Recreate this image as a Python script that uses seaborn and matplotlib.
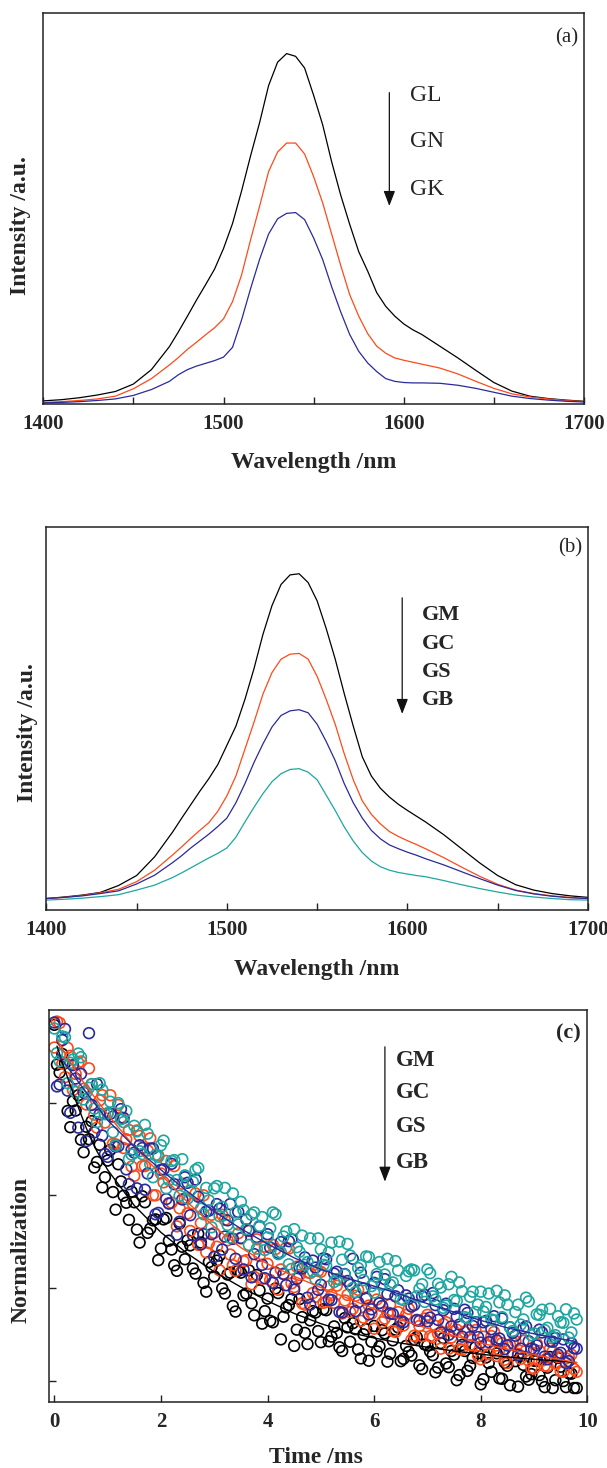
import numpy as np
import matplotlib
matplotlib.use("Agg")
import matplotlib.pyplot as plt
import seaborn as sns

# ---------------- emission spectra ----------------
wavelength = [1400, 1410, 1420, 1430, 1440, 1450, 1460, 1470, 1475, 1480, 1485, 1490, 1495,
              1500, 1505, 1510, 1515, 1520, 1525, 1530, 1535, 1540, 1545, 1550, 1555, 1560,
              1565, 1570, 1575, 1580, 1585, 1590, 1595, 1600, 1605, 1610, 1620, 1630, 1640,
              1650, 1660, 1670, 1680, 1690, 1700]

gl = [0.008, 0.011, 0.016, 0.023, 0.032, 0.051, 0.088, 0.147, 0.185, 0.225, 0.266, 0.305, 0.345,
      0.398, 0.462, 0.545, 0.635, 0.720, 0.815, 0.875, 0.897, 0.890, 0.860, 0.790, 0.715, 0.620,
      0.535, 0.460, 0.390, 0.340, 0.285, 0.250, 0.225, 0.205, 0.190, 0.178, 0.148, 0.118, 0.086,
      0.055, 0.033, 0.020, 0.014, 0.010, 0.007]
gn = [0.004, 0.006, 0.009, 0.013, 0.020, 0.039, 0.065, 0.100, 0.119, 0.140, 0.158, 0.177, 0.195,
      0.218, 0.262, 0.330, 0.420, 0.506, 0.595, 0.645, 0.668, 0.668, 0.640, 0.582, 0.515, 0.435,
      0.355, 0.280, 0.225, 0.180, 0.148, 0.130, 0.118, 0.112, 0.107, 0.102, 0.092, 0.077, 0.058,
      0.040, 0.026, 0.018, 0.013, 0.009, 0.006]
gk = [0.003, 0.004, 0.006, 0.009, 0.013, 0.022, 0.037, 0.058, 0.075, 0.088, 0.097, 0.104, 0.111,
      0.120, 0.145, 0.215, 0.295, 0.370, 0.435, 0.474, 0.488, 0.490, 0.472, 0.425, 0.370, 0.300,
      0.236, 0.178, 0.135, 0.105, 0.083, 0.065, 0.058, 0.055, 0.054, 0.054, 0.053, 0.048, 0.040,
      0.030, 0.020, 0.014, 0.010, 0.007, 0.005]

gm = [0.030, 0.034, 0.039, 0.046, 0.064, 0.090, 0.139, 0.204, 0.240, 0.275, 0.310, 0.343, 0.380,
      0.430, 0.480, 0.550, 0.630, 0.720, 0.795, 0.850, 0.875, 0.878, 0.855, 0.807, 0.735, 0.655,
      0.565, 0.480, 0.400, 0.350, 0.318, 0.295, 0.276, 0.260, 0.245, 0.230, 0.197, 0.160, 0.123,
      0.090, 0.066, 0.052, 0.043, 0.037, 0.033]
gc = [0.030, 0.033, 0.038, 0.045, 0.054, 0.074, 0.104, 0.144, 0.165, 0.187, 0.208, 0.228, 0.258,
      0.298, 0.350, 0.420, 0.490, 0.564, 0.620, 0.655, 0.668, 0.670, 0.655, 0.610, 0.550, 0.485,
      0.408, 0.340, 0.285, 0.250, 0.225, 0.205, 0.192, 0.181, 0.171, 0.160, 0.137, 0.112, 0.088,
      0.067, 0.052, 0.043, 0.037, 0.033, 0.030]
gs = [0.030, 0.033, 0.037, 0.043, 0.050, 0.068, 0.091, 0.124, 0.142, 0.162, 0.180, 0.198, 0.218,
      0.240, 0.280, 0.330, 0.385, 0.434, 0.478, 0.508, 0.520, 0.523, 0.515, 0.485, 0.440, 0.390,
      0.330, 0.280, 0.240, 0.208, 0.186, 0.170, 0.160, 0.151, 0.143, 0.134, 0.118, 0.100, 0.082,
      0.065, 0.051, 0.042, 0.036, 0.032, 0.030]
gb = [0.026, 0.028, 0.031, 0.035, 0.040, 0.052, 0.065, 0.085, 0.097, 0.110, 0.123, 0.136, 0.148,
      0.162, 0.190, 0.230, 0.268, 0.304, 0.335, 0.356, 0.367, 0.369, 0.360, 0.340, 0.300, 0.260,
      0.217, 0.180, 0.150, 0.128, 0.113, 0.104, 0.098, 0.094, 0.090, 0.087, 0.077, 0.066, 0.056,
      0.047, 0.039, 0.034, 0.030, 0.027, 0.026]

# ---------------- decay curves (two interleaved sampling passes) ----------------
time_even = [round(0.1 * i, 2) for i in range(99)]
time_odd = [round(0.05 + 0.1 * i, 2) for i in range(98)]

decay_gm_even = [0.968, 0.865, 0.885, 0.747, 0.783, 0.720, 0.748, 0.760, 0.672, 0.617,
                 0.675, 0.607, 0.667, 0.599, 0.547, 0.585, 0.498, 0.585, 0.528, 0.548,
                 0.485, 0.551, 0.483, 0.437, 0.489, 0.503, 0.442, 0.517, 0.411, 0.456,
                 0.425, 0.470, 0.388, 0.433, 0.349, 0.433, 0.388, 0.367, 0.428, 0.323,
                 0.377, 0.326, 0.389, 0.338, 0.363, 0.275, 0.376, 0.303, 0.330, 0.347,
                 0.283, 0.352, 0.295, 0.303, 0.264, 0.315, 0.324, 0.267, 0.300, 0.243,
                 0.318, 0.274, 0.302, 0.258, 0.310, 0.242, 0.275, 0.254, 0.294, 0.225,
                 0.276, 0.255, 0.228, 0.292, 0.229, 0.256, 0.212, 0.264, 0.232, 0.272,
                 0.192, 0.250, 0.219, 0.259, 0.204, 0.232, 0.255, 0.187, 0.234, 0.202,
                 0.243, 0.212, 0.186, 0.251, 0.201, 0.230, 0.186, 0.215, 0.184]
decay_gm_odd = [0.882, 0.905, 0.782, 0.803, 0.816, 0.693, 0.721, 0.660, 0.709, 0.639,
                0.698, 0.569, 0.630, 0.584, 0.608, 0.526, 0.598, 0.519, 0.546, 0.460,
                0.548, 0.502, 0.449, 0.539, 0.462, 0.492, 0.431, 0.498, 0.392, 0.445,
                0.459, 0.399, 0.429, 0.361, 0.437, 0.384, 0.438, 0.341, 0.395, 0.350,
                0.329, 0.399, 0.289, 0.358, 0.376, 0.310, 0.337, 0.279, 0.350, 0.307,
                0.354, 0.285, 0.317, 0.272, 0.335, 0.284, 0.311, 0.248, 0.311, 0.284,
                0.263, 0.309, 0.241, 0.287, 0.315, 0.247, 0.262, 0.289, 0.233, 0.278,
                0.263, 0.218, 0.281, 0.237, 0.264, 0.201, 0.277, 0.221, 0.249, 0.259,
                0.203, 0.238, 0.266, 0.205, 0.239, 0.190, 0.242, 0.253, 0.209, 0.214,
                0.243, 0.199, 0.228, 0.184, 0.249, 0.199, 0.216, 0.184]

decay_gc_even = [0.919, 0.972, 0.855, 0.901, 0.862, 0.889, 0.796, 0.840, 0.746, 0.816,
                 0.777, 0.711, 0.795, 0.702, 0.741, 0.642, 0.728, 0.663, 0.723, 0.600,
                 0.647, 0.674, 0.584, 0.533, 0.625, 0.561, 0.582, 0.493, 0.600, 0.497,
                 0.519, 0.438, 0.547, 0.472, 0.437, 0.507, 0.460, 0.408, 0.505, 0.420,
                 0.452, 0.493, 0.396, 0.431, 0.485, 0.402, 0.428, 0.364, 0.432, 0.381,
                 0.435, 0.370, 0.385, 0.405, 0.345, 0.385, 0.355, 0.396, 0.336, 0.362,
                 0.312, 0.368, 0.334, 0.364, 0.305, 0.331, 0.342, 0.288, 0.330, 0.296,
                 0.342, 0.294, 0.301, 0.322, 0.269, 0.306, 0.268, 0.305, 0.277, 0.309,
                 0.246, 0.278, 0.296, 0.253, 0.281, 0.238, 0.281, 0.258, 0.286, 0.243,
                 0.226, 0.264, 0.232, 0.269, 0.237, 0.220, 0.248, 0.256, 0.219]
decay_gc_odd = [0.975, 0.884, 0.918, 0.827, 0.886, 0.830, 0.874, 0.774, 0.805, 0.757,
                0.816, 0.710, 0.768, 0.721, 0.662, 0.740, 0.663, 0.697, 0.600, 0.686,
                0.628, 0.583, 0.663, 0.572, 0.593, 0.523, 0.604, 0.540, 0.477, 0.558,
                0.489, 0.558, 0.503, 0.449, 0.518, 0.458, 0.523, 0.424, 0.469, 0.489,
                0.417, 0.484, 0.440, 0.487, 0.410, 0.446, 0.367, 0.434, 0.389, 0.437,
                0.368, 0.403, 0.368, 0.418, 0.373, 0.348, 0.383, 0.329, 0.379, 0.345,
                0.375, 0.326, 0.347, 0.307, 0.348, 0.319, 0.355, 0.297, 0.318, 0.334,
                0.296, 0.318, 0.269, 0.326, 0.293, 0.310, 0.267, 0.309, 0.276, 0.253,
                0.295, 0.257, 0.305, 0.267, 0.245, 0.277, 0.285, 0.247, 0.265, 0.227,
                0.280, 0.243, 0.231, 0.263, 0.251, 0.219, 0.252, 0.225]

decay_gs_even = [0.973, 0.839, 0.959, 0.778, 0.852, 0.862, 0.717, 0.795, 0.840, 0.729,
                 0.683, 0.770, 0.706, 0.767, 0.624, 0.692, 0.708, 0.612, 0.701, 0.559,
                 0.655, 0.592, 0.668, 0.515, 0.591, 0.627, 0.514, 0.597, 0.516, 0.567,
                 0.467, 0.571, 0.511, 0.581, 0.463, 0.508, 0.548, 0.423, 0.510, 0.450,
                 0.516, 0.411, 0.476, 0.430, 0.501, 0.396, 0.445, 0.466, 0.364, 0.444,
                 0.407, 0.462, 0.374, 0.435, 0.347, 0.415, 0.463, 0.369, 0.399, 0.343,
                 0.411, 0.367, 0.419, 0.345, 0.382, 0.328, 0.384, 0.360, 0.331, 0.382,
                 0.328, 0.389, 0.331, 0.352, 0.299, 0.355, 0.321, 0.353, 0.294, 0.326,
                 0.282, 0.329, 0.311, 0.287, 0.334, 0.276, 0.303, 0.255, 0.313, 0.285,
                 0.267, 0.310, 0.252, 0.285, 0.292, 0.260, 0.238, 0.281, 0.269]
decay_gs_odd = [0.835, 0.935, 0.826, 0.881, 0.746, 0.822, 0.950, 0.736, 0.775, 0.689,
                0.776, 0.705, 0.786, 0.656, 0.698, 0.615, 0.702, 0.647, 0.701, 0.562,
                0.656, 0.582, 0.624, 0.543, 0.639, 0.557, 0.634, 0.494, 0.565, 0.516,
                0.581, 0.483, 0.546, 0.506, 0.564, 0.440, 0.524, 0.473, 0.532, 0.421,
                0.487, 0.433, 0.499, 0.406, 0.505, 0.420, 0.442, 0.379, 0.459, 0.396,
                0.464, 0.375, 0.431, 0.348, 0.430, 0.407, 0.350, 0.433, 0.377, 0.354,
                0.424, 0.361, 0.387, 0.344, 0.395, 0.326, 0.377, 0.363, 0.329, 0.385,
                0.336, 0.363, 0.304, 0.366, 0.317, 0.338, 0.295, 0.346, 0.318, 0.294,
                0.326, 0.283, 0.339, 0.291, 0.268, 0.315, 0.297, 0.269, 0.317, 0.269,
                0.276, 0.304, 0.246, 0.284, 0.256, 0.289, 0.242, 0.270]

decay_gb_even = [0.960, 0.890, 0.941, 0.886, 0.823, 0.898, 0.822, 0.840, 0.758, 0.828,
                 0.777, 0.736, 0.799, 0.758, 0.678, 0.750, 0.695, 0.752, 0.667, 0.687,
                 0.708, 0.615, 0.674, 0.633, 0.678, 0.593, 0.629, 0.659, 0.559, 0.589,
                 0.615, 0.555, 0.616, 0.509, 0.563, 0.586, 0.527, 0.558, 0.485, 0.553,
                 0.509, 0.563, 0.473, 0.511, 0.451, 0.527, 0.478, 0.450, 0.507, 0.419,
                 0.483, 0.448, 0.498, 0.419, 0.461, 0.495, 0.400, 0.443, 0.417, 0.467,
                 0.390, 0.456, 0.429, 0.407, 0.458, 0.376, 0.426, 0.440, 0.382, 0.408,
                 0.440, 0.382, 0.409, 0.357, 0.408, 0.374, 0.412, 0.337, 0.381, 0.348,
                 0.392, 0.359, 0.332, 0.394, 0.337, 0.364, 0.307, 0.364, 0.332, 0.371,
                 0.302, 0.342, 0.309, 0.355, 0.298, 0.326, 0.354, 0.304, 0.332]
decay_gb_odd = [0.907, 0.943, 0.842, 0.893, 0.906, 0.807, 0.832, 0.787, 0.842, 0.775,
                0.802, 0.707, 0.764, 0.782, 0.688, 0.738, 0.689, 0.733, 0.639, 0.683,
                0.718, 0.633, 0.676, 0.599, 0.643, 0.610, 0.655, 0.571, 0.616, 0.531,
                0.620, 0.575, 0.536, 0.604, 0.537, 0.568, 0.493, 0.563, 0.534, 0.482,
                0.529, 0.559, 0.477, 0.522, 0.441, 0.488, 0.513, 0.456, 0.436, 0.507,
                0.450, 0.477, 0.413, 0.500, 0.429, 0.470, 0.391, 0.449, 0.468, 0.404,
                0.430, 0.407, 0.463, 0.412, 0.438, 0.374, 0.436, 0.438, 0.398, 0.370,
                0.432, 0.375, 0.401, 0.362, 0.424, 0.372, 0.393, 0.335, 0.392, 0.364,
                0.349, 0.388, 0.330, 0.369, 0.384, 0.315, 0.348, 0.321, 0.379, 0.298,
                0.343, 0.353, 0.314, 0.294, 0.339, 0.325, 0.293, 0.345]

fit_time = [0.05, 0.2, 0.4, 0.6, 0.8, 1.0, 1.5, 2.0, 2.5, 3.0, 3.5, 4.0, 4.5, 5.0,
            5.5, 6.0, 6.5, 7.0, 7.5, 8.0, 8.5, 9.0, 9.5, 9.8]
fit_gm = [0.922, 0.870, 0.805, 0.745, 0.695, 0.655, 0.578, 0.520, 0.474, 0.435, 0.402, 0.372,
          0.345, 0.323, 0.305, 0.292, 0.281, 0.272, 0.264, 0.257, 0.251, 0.246, 0.242, 0.239]
fit_gc = [0.936, 0.907, 0.869, 0.835, 0.805, 0.775, 0.705, 0.645, 0.585, 0.532, 0.487, 0.452,
          0.425, 0.401, 0.378, 0.355, 0.331, 0.313, 0.297, 0.281, 0.268, 0.256, 0.245, 0.239]
fit_gb = [0.908, 0.884, 0.853, 0.822, 0.792, 0.762, 0.705, 0.655, 0.608, 0.565, 0.528, 0.495,
          0.465, 0.440, 0.421, 0.404, 0.386, 0.366, 0.348, 0.330, 0.314, 0.301, 0.290, 0.284]

BLACK = "#000000"
ORANGE = "#ff4a1a"
BLUE = "#2a2a9c"
TEAL = "#1ea6a0"

sns.set_style("ticks")
plt.rcParams["font.family"] = ["Liberation Serif", "DejaVu Serif"]
plt.rcParams["axes.linewidth"] = 1.1
plt.rcParams["axes.edgecolor"] = "#222222"

fig = plt.figure(figsize=(6.07, 14.68), dpi=100)
ax_a = fig.add_axes([0.0713, 0.7248, 0.8908, 0.2661])
ax_b = fig.add_axes([0.0763, 0.3801, 0.8924, 0.2609])
ax_c = fig.add_axes([0.0807, 0.0450, 0.8869, 0.2670])

TICK_FS = 15
LABEL_FS = 17


def style_axes(ax):
    ax.tick_params(axis="both", direction="in", length=5, width=1.0, color="#222222",
                   top=False, right=False, pad=7, labelsize=TICK_FS)
    for lab in ax.get_xticklabels():
        lab.set_fontweight("bold")
    for sp in ax.spines.values():
        sp.set_visible(True)
        sp.set_color("#222222")


def spectrum_axes(ax):
    ax.set_xlim(1400, 1700)
    ax.set_ylim(0, 1.0)
    ax.set_xticks([1400, 1450, 1500, 1550, 1600, 1650, 1700],
                  labels=["1400", "", "1500", "", "1600", "", "1700"])
    ax.set_yticks([])
    style_axes(ax)
    ax.set_xlabel("Wavelength /nm", fontsize=LABEL_FS, fontweight="bold")
    ax.set_ylabel("Intensity /a.u.", fontsize=LABEL_FS, fontweight="bold")


def arrow(ax, x, y0, y1):
    ax.annotate("", xy=(x, y1), xytext=(x, y0), xycoords="axes fraction",
                arrowprops=dict(arrowstyle="-|>,head_length=0.65,head_width=0.25",
                                mutation_scale=14, lw=0.9, color="#111111",
                                shrinkA=0, shrinkB=0))


# ---- (a) ----
for y, c in [(gl, BLACK), (gn, ORANGE), (gk, BLUE)]:
    sns.lineplot(x=wavelength, y=y, ax=ax_a, color=c, lw=0.9, estimator=None)
spectrum_axes(ax_a)
ax_a.xaxis.set_label_coords(0.5, -0.122)
ax_a.yaxis.set_label_coords(-0.023, 0.456)
ax_a.text(0.989, 0.938, "(a)", transform=ax_a.transAxes, ha="right", va="center", fontsize=15)
arrow(ax_a, 0.640, 0.797, 0.507)
for name, yy in [("GL", 0.791), ("GN", 0.671), ("GK", 0.548)]:
    ax_a.text(0.678, yy, name, transform=ax_a.transAxes, ha="left", va="center", fontsize=17)

# ---- (b) ----
for y, c in [(gm, BLACK), (gc, ORANGE), (gs, BLUE), (gb, TEAL)]:
    sns.lineplot(x=wavelength, y=y, ax=ax_b, color=c, lw=0.9, estimator=None)
spectrum_axes(ax_b)
ax_b.xaxis.set_label_coords(0.5, -0.127)
ax_b.yaxis.set_label_coords(-0.016, 0.463)
ax_b.text(0.989, 0.945, "(b)", transform=ax_b.transAxes, ha="right", va="center", fontsize=15)
arrow(ax_b, 0.657, 0.815, 0.512)
for name, yy in [("GM", 0.770), ("GC", 0.695), ("GS", 0.622), ("GB", 0.548)]:
    ax_b.text(0.693, yy, name, transform=ax_b.transAxes, ha="left", va="center",
              fontsize=16, fontweight="bold")

# ---- (c) ----
series = [(decay_gm_even, decay_gm_odd, BLACK), (decay_gc_even, decay_gc_odd, ORANGE),
          (decay_gs_even, decay_gs_odd, BLUE), (decay_gb_even, decay_gb_odd, TEAL)]
for y_even, y_odd, c in series:
    sns.scatterplot(x=time_even + time_odd, y=y_even + y_odd, ax=ax_c, marker="o", s=60,
                    color=c, facecolor="none", edgecolor=c, linewidth=1.2, zorder=2)
for y, c in [(fit_gm, BLACK), (fit_gc, ORANGE), (fit_gb, BLUE)]:
    sns.lineplot(x=fit_time, y=y, ax=ax_c, color=c, lw=1.0, estimator=None, zorder=4)
ax_c.set_xlim(-0.1, 10)
ax_c.set_ylim(0.154, 1.0)
ax_c.set_xticks([0, 2, 4, 6, 8, 10])
ax_c.set_yticks([0.2, 0.4, 0.6, 0.8], labels=["", "", "", ""])
style_axes(ax_c)
ax_c.set_xlabel("Time /ms", fontsize=LABEL_FS, fontweight="bold")
ax_c.set_ylabel("Normalization", fontsize=LABEL_FS, fontweight="bold")
ax_c.xaxis.set_label_coords(0.496, -0.114)
ax_c.yaxis.set_label_coords(-0.033, 0.388)
ax_c.text(0.988, 0.941, "(c)", transform=ax_c.transAxes, ha="right", va="center",
          fontsize=16, fontweight="bold")
arrow(ax_c, 0.624, 0.906, 0.562)
for name, yy in [("GM", 0.870), ("GC", 0.789), ("GS", 0.702), ("GB", 0.610)]:
    ax_c.text(0.645, yy, name, transform=ax_c.transAxes, ha="left", va="center",
              fontsize=16.5, fontweight="bold")

fig.savefig("out.png", dpi=100)
